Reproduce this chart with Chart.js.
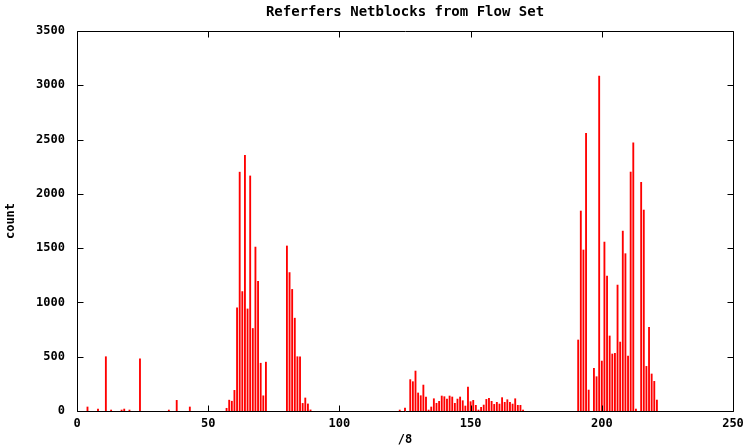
<!DOCTYPE html>
<html>
<head>
<meta charset="utf-8">
<title>Referfers Netblocks from Flow Set</title>
<script src="https://cdn.jsdelivr.net/npm/chart.js@4.4.1/dist/chart.umd.min.js"></script>
<style>
  html, body { margin: 0; padding: 0; background: #fff; }
  .wrap { width: 747px; height: 447px; position: relative; }
</style>
</head>
<body>
<div class="wrap"><canvas id="flowChart"></canvas></div>
<script>
const netblocks = [
  4, 8, 11, 13, 17, 18, 20, 24, 35, 38, 43,
  57, 58, 59, 60, 61, 62, 63, 64, 65, 66, 67, 68, 69, 70, 71, 72,
  80, 81, 82, 83, 84, 85, 86, 87, 88, 89,
  123, 125,
  127, 128, 129, 130, 131, 132, 133, 134, 135, 136, 137, 138, 139, 140, 141,
  142, 143, 144, 145, 146, 147, 148, 149, 150, 151, 152, 153, 154, 155, 156,
  157, 158, 159, 160, 161, 162, 163, 164, 165, 166, 167, 168, 169, 170,
  191, 192, 193, 194, 195, 197, 198, 199, 200, 201, 202, 203, 204, 205, 206,
  207, 208, 209, 210, 211, 212, 213, 215, 216, 217, 218, 219, 220, 221,
];

const counts = [
  37, 18, 500, 9, 9, 18, 9, 480, 9, 98, 37,
  25, 100, 90, 190, 950, 2200, 1100, 2355, 940, 2165, 760, 1510, 1195, 440, 140, 450,
  1520, 1275, 1120, 855, 500, 500, 70, 120, 65, 10,
  9, 28,
  289, 270, 368, 166, 141, 239, 129, 9, 37, 113, 71, 89, 138, 132, 110,
  138, 129, 71, 110, 129, 95, 46, 221, 86, 98, 52, 9, 34, 55, 107,
  117, 89, 61, 80, 64, 123, 80, 104, 80, 64, 113, 52, 52, 9,
  654, 1842, 1483, 2557, 193, 393, 316, 3085, 460, 1556, 1243, 691, 525, 531, 1160,
  635, 1657, 1449, 506, 2201, 2471, 18, 2106, 1851, 411, 770, 341, 273, 101,
];

const xTicks = [0, 50, 100, 150, 200, 250];
const yTicks = [0, 500, 1000, 1500, 2000, 2500, 3000, 3500];

const FONT = "'DejaVu Sans Mono', monospace";

// gnuplot style frame: box round the plot with inward ticks on all sides
const framePlugin = {
  id: "frame",
  afterDatasetsDraw(chart) {
    const { ctx, chartArea: a, scales } = chart;
    const L = Math.round(a.left) + 0.5;
    const R = Math.round(a.right) + 0.5;
    const T = Math.round(a.top) + 0.5;
    const B = Math.round(a.bottom) + 0.5;
    ctx.save();
    ctx.strokeStyle = "#000";
    ctx.lineWidth = 1;
    ctx.beginPath();
    ctx.rect(L, T, R - L, B - T);
    yTicks.forEach((v) => {
      const y = Math.round(scales.y.getPixelForValue(v)) + 0.5;
      ctx.moveTo(L, y);
      ctx.lineTo(L + 6, y);
      ctx.moveTo(R, y);
      ctx.lineTo(R - 6, y);
    });
    xTicks.forEach((v) => {
      const x = Math.round(scales.x.getPixelForValue(v)) + 0.5;
      ctx.moveTo(x, B);
      ctx.lineTo(x, B - 6);
      ctx.moveTo(x, T);
      ctx.lineTo(x, T + 6);
    });
    ctx.stroke();
    ctx.restore();
  },
};

function initChart() {
  const ctx = document.getElementById("flowChart");

  new Chart(ctx, {
    type: "bar",
    data: {
      datasets: [
        {
          label: "count",
          data: netblocks.map((x, i) => ({ x: x, y: counts[i] })),
          backgroundColor: "#ff0000",
          borderWidth: 0,
          barThickness: 1.2,
        },
      ],
    },
    plugins: [framePlugin],
    options: {
      responsive: true,
      maintainAspectRatio: false,
      animation: false,
      layout: { padding: { left: 0, right: 14, top: 0, bottom: 0 } },
      plugins: {
        legend: { display: false },
        tooltip: { enabled: false },
        title: {
          display: true,
          fullSize: false,
          text: "Referfers Netblocks from Flow Set",
          color: "#000",
          font: { family: FONT, size: 14, weight: "bold", lineHeight: 1.2 },
          padding: { top: 4, bottom: 10.2 },
        },
      },
      scales: {
        x: {
          type: "linear",
          min: 0,
          max: 250,
          offset: false,
          grid: { display: false, drawTicks: false },
          border: { display: false },
          ticks: {
            stepSize: 50,
            color: "#000",
            padding: 6,
            maxRotation: 0,
            font: { family: FONT, size: 12, weight: "bold" },
            callback: (value) => String(value),
          },
          title: {
            display: true,
            text: "/8",
            color: "#000",
            padding: { top: 0, bottom: 0 },
            font: { family: FONT, size: 12, weight: "bold" },
          },
          afterFit(scale) {
            scale.height = 36;
            scale.paddingLeft = 0;
            scale.paddingRight = 0;
          },
        },
        y: {
          min: 0,
          max: 3500,
          grid: { display: false, drawTicks: false },
          border: { display: false },
          ticks: {
            stepSize: 500,
            color: "#000",
            padding: 12,
            font: { family: FONT, size: 12, weight: "bold" },
            callback: (value) => String(value),
          },
          title: {
            display: true,
            text: "count",
            color: "#000",
            padding: { top: 4, bottom: 4 },
            font: { family: FONT, size: 12, weight: "bold" },
          },
          afterFit(scale) {
            scale.width = 77;
            scale.paddingTop = 0;
            scale.paddingBottom = 0;
          },
        },
      },
    },
  });
}

document.addEventListener("DOMContentLoaded", initChart);
</script>
</body>
</html>
